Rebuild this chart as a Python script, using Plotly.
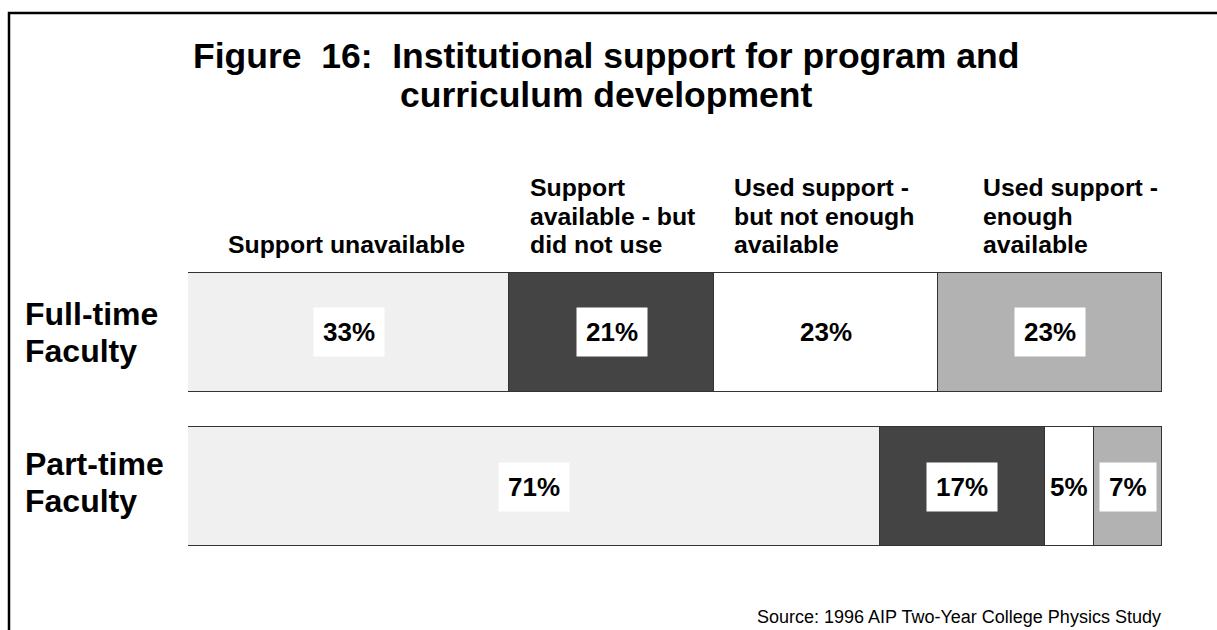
import plotly.graph_objects as go

# ---- data ----
rows = ["Full-time<br>Faculty", "Part-time<br>Faculty"]
categories = [
    "Support unavailable",
    "Support<br>available - but<br>did not use",
    "Used support -<br>but not enough<br>available",
    "Used support -<br>enough<br>available",
]
full_time = [33, 21, 23, 23]
part_time = [71, 17, 5, 7]
colors = ["#f0f0f0", "#444444", "#ffffff", "#b2b2b2"]
title_lines = ["Figure\u00a0\u00a016:\u00a0\u00a0Institutional support for program and",
               "curriculum development"]
source = "Source: 1996 AIP Two-Year College Physics Study"

W, H = 1217, 630
ML, MR, MT, MB = 188, 55, 255, 66
PW = W - ML - MR
PH = H - MT - MB


def fx(px):
    return (px - ML) / PW


def fy(py):
    return (H - MB - py) / PH


FONT = "Liberation Sans, Arial, sans-serif"

values = [full_time, part_time]
ypos = [0, 1]

fig = go.Figure()
for i, cat in enumerate(categories):
    fig.add_trace(go.Bar(
        x=[v[i] for v in values],
        y=ypos,
        orientation="h",
        width=0.77,
        marker=dict(color=colors[i], line=dict(color="#333333", width=1.5)),
        name=cat,
        showlegend=False,
        hoverinfo="skip",
    ))

annotations = []
# percentage labels
for r, vals in enumerate(values):
    cum = 0
    for i, v in enumerate(vals):
        bg = "rgba(0,0,0,0)" if colors[i] == "#ffffff" else "white"
        annotations.append(dict(
            x=cum + v / 2, y=ypos[r], xref="x", yref="y",
            text=f"<b>{v}%</b>", showarrow=False,
            font=dict(family=FONT, size=26, color="black"),
            bgcolor=bg, borderpad=9,
        ))
        cum += v

# row labels
row_shift = [0, 4]
for r, lab in enumerate(rows):
    lines = lab.split("<br>")
    for k, ln in enumerate(lines):
        annotations.append(dict(
            x=fx(23), y=ypos[r], xref="paper", yref="y",
            yshift=(len(lines) - 1) * 37 / 2 - k * 37 + row_shift[r],
            text=f"<b>{ln}</b>", showarrow=False, xanchor="left", yanchor="middle",
            font=dict(family=FONT, size=32, color="black"),
        ))

# column headings (bottom aligned)
head_x = [227, 529, 733, 982]
for c, cat in enumerate(categories):
    lines = cat.split("<br>")
    n = len(lines)
    for k, ln in enumerate(lines):
        base = 253 - (n - 1 - k) * 29
        annotations.append(dict(
            x=fx(head_x[c]), y=fy(base - 8), xref="paper", yref="paper",
            text=f"<b>{ln}</b>", showarrow=False, xanchor="left", yanchor="middle",
            font=dict(family=FONT, size=24.8, color="black"), borderpad=0,
        ))

# title
for k, ln in enumerate(title_lines):
    annotations.append(dict(
        x=fx(606), y=fy(56 + k * 39), xref="paper", yref="paper",
        text=f"<b>{ln}</b>", showarrow=False, xanchor="center", yanchor="middle",
        font=dict(family=FONT, size=35.5, color="black"), borderpad=0,
    ))

# source
annotations.append(dict(
    x=fx(1162), y=fy(617), xref="paper", yref="paper",
    text=source, showarrow=False, xanchor="right", yanchor="middle",
    font=dict(family=FONT, size=18, color="black"), borderpad=0,
))

fig.update_layout(
    width=W, height=H,
    margin=dict(l=ML, r=MR, t=MT, b=MB),
    paper_bgcolor="white", plot_bgcolor="white",
    barmode="stack", bargap=0,
    xaxis=dict(range=[0, 100], visible=False, fixedrange=True),
    yaxis=dict(range=[1.5, -0.5], visible=False, fixedrange=True),
    annotations=annotations,
    shapes=[dict(type="rect", xref="paper", yref="paper",
                 x0=fx(9), y0=fy(13), x1=fx(1400), y1=fy(800),
                 line=dict(color="black", width=2.5), fillcolor="rgba(0,0,0,0)",
                 layer="below")],
)

fig.write_html("out.html", config={"displayModeBar": False},
               post_script="document.body.style.margin='0px';document.body.style.overflow='hidden';")
